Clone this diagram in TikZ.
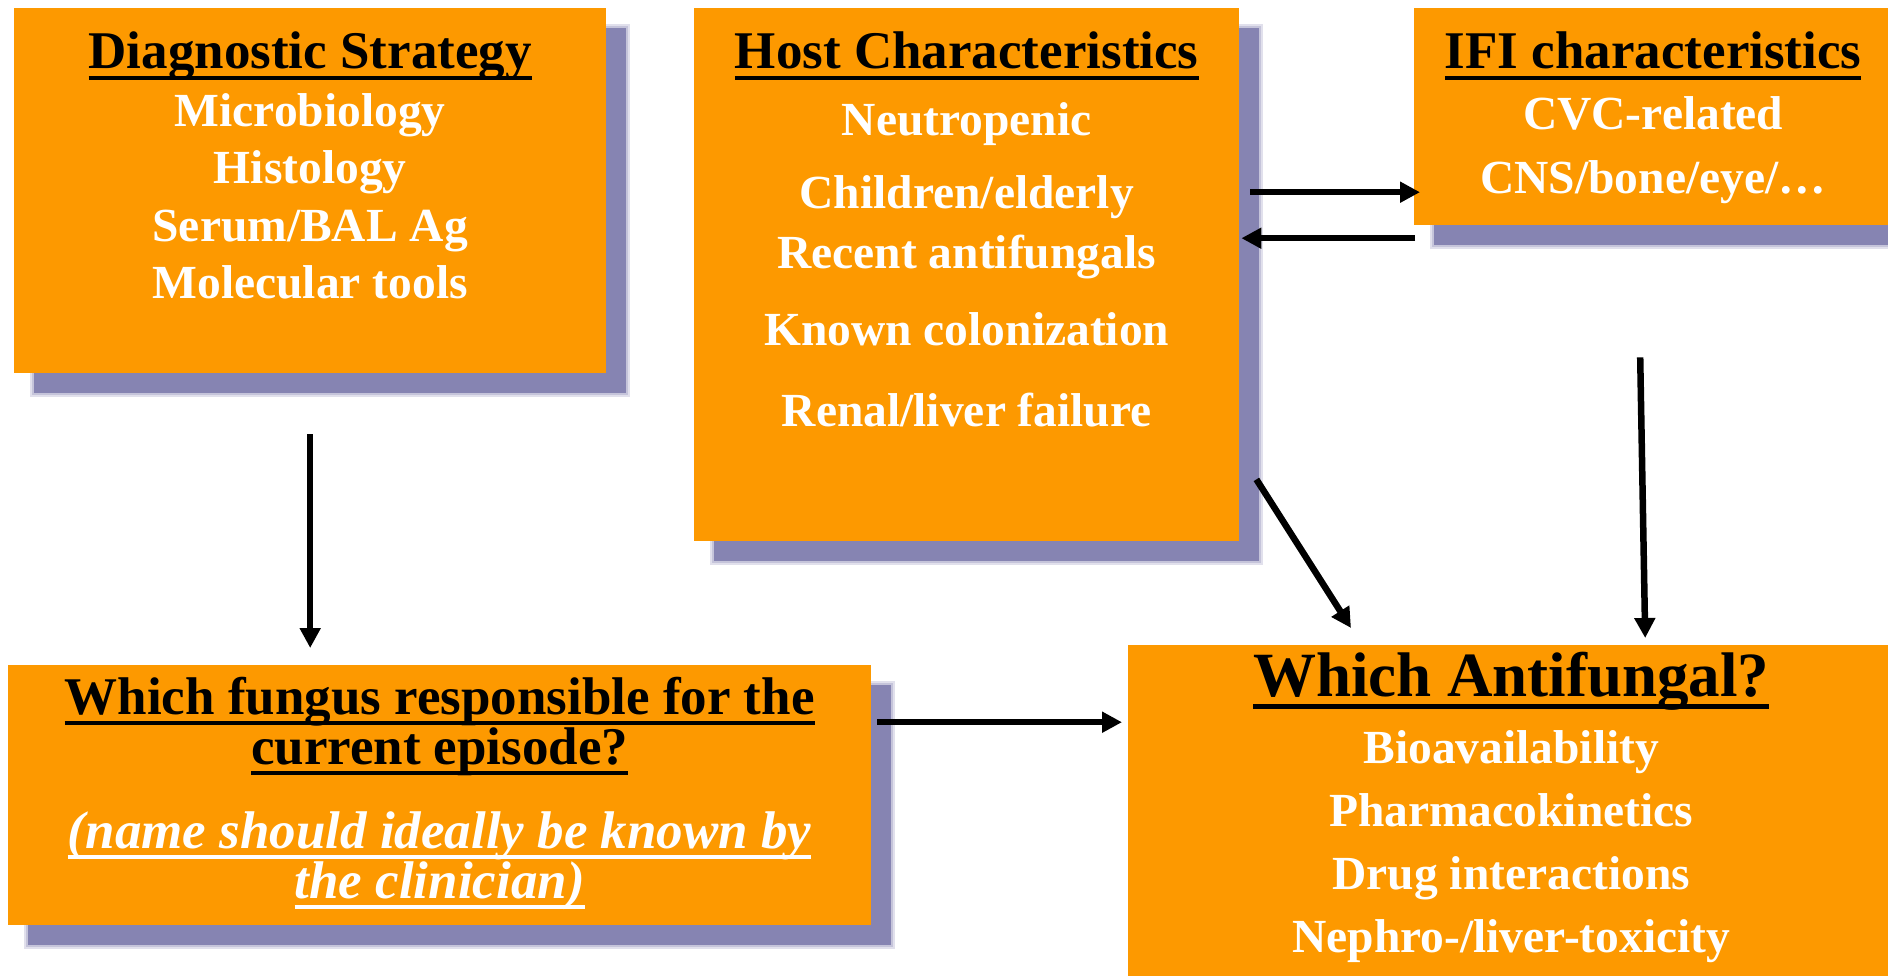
\documentclass[tikz,border=0pt]{standalone}
\usepackage{fontspec}
\setmainfont{Liberation Serif}
\usepackage{tikz}
\usetikzlibrary{positioning,shadows,arrows.meta,backgrounds}

\definecolor{boxorange}{RGB}{253,153,0}
\definecolor{shadowblue}{RGB}{134,132,178}
\setlength{\lineskiplimit}{-100pt}

% underline at a fixed depth, through the descenders
\newcommand{\uln}[1]{\setbox0\hbox{#1}\rlap{\rule[-0.21em]{\wd0}{0.08em}}\box0}
\newcommand{\headline}[2][53]{{\color{black}\fontsize{#1}{57}\selectfont\uln{#2}}}

\begin{document}
\begin{tikzpicture}[x=1pt, y=1pt,
    box/.style={rectangle, fill=boxorange, inner sep=0pt, anchor=north west,
      drop shadow={shadow xshift=20pt, shadow yshift=-20pt, fill=shadowblue, opacity=1}},
    items/.style={align=center, inner sep=0pt, text=white,
      font=\fontsize{47.5}{57.5}\selectfont\bfseries},
    arr/.style={line width=6.5pt, -{Triangle[length=20pt, width=20pt]}}]
  \useasboundingbox (0,0) rectangle (1888,-975);

  % boxes
  \node [box, minimum width=592pt, minimum height=365pt] (diag) at (14,-8) {};
  \node [box, minimum width=545pt, minimum height=533pt] (host) at (694,-8) {};
  \node [box, minimum width=478pt, minimum height=217pt] (ifi) at (1414,-8) {};
  \node [box, minimum width=863pt, minimum height=260pt] (fungus) at (8,-665) {};
  \node [box, minimum width=766pt, minimum height=335pt] (anti) at (1128,-645) {};

  % soft edge of the shadows
  \begin{scope}[on background layer]
    \foreach \b in {diag,host,ifi,fungus,anti}
      \foreach \d/\op in {4/0.25,2/0.3}
        \fill [shadowblue, opacity=\op] ([shift={(20-\d,-20+\d)}]\b.north west)
          rectangle ([shift={(20+\d,-20-\d)}]\b.south east);
  \end{scope}

  % texts
  \node [items, below=24pt of diag.north] (diagtext) {\headline{Diagnostic Strategy}\\
    Microbiology\\ Histology\\ Serum/BAL Ag\\ Molecular tools};
  \node [items, below=24pt of host.north] (hosttext) {\headline{Host Characteristics}\\[9pt]
    Neutropenic\\[16pt] Children/elderly\\[2pt] Recent antifungals\\[20pt]
    Known colonization\\[23pt] Renal/liver failure};
  \node [items, below=24pt of ifi.north] (ifitext) {\headline{IFI characteristics}\\[3pt]
    CVC-related\\[7pt] CNS/bone/eye/…};
  \node [items, text=black, font=\fontsize{53}{50}\selectfont\bfseries,
    below=11.5pt of fungus.north] (fungustext) {\uln{Which fungus responsible for the}\\
    \uln{current episode?}\\[34pt]
    {\color{white}\itshape\uln{(name should ideally be known by}}\\
    {\color{white}\itshape\uln{the clinician)}}};
  \node [items, font=\fontsize{47.5}{63}\selectfont\bfseries,
    below=6.5pt of anti.north] (antitext) {\headline[63]{Which Antifungal?}\\[4pt]
    Bioavailability\\ Pharmacokinetics\\ Drug interactions\\ Nephro-/liver-toxicity};

  % connectors
  \draw [arr, shorten <=61pt, shorten >=17pt] (diag.south) -- (diag.south |- fungus.north);
  \draw [arr] ([xshift=11pt, yshift=82.5pt]host.east) -- ([xshift=6pt, yshift=-75.5pt]ifi.west);
  \draw [arr] ([xshift=1pt, yshift=-121.5pt]ifi.west) -- ([xshift=2pt, yshift=36.5pt]host.east);
  \draw [arr] ([xshift=17pt, yshift=62pt]host.south east) -- ([xshift=223pt, yshift=17pt]anti.north west);
  \draw [arr] ([xshift=-13pt, yshift=-132pt]ifi.south) -- ([xshift=134pt, yshift=7pt]anti.north);
  \draw [arr] ([xshift=6pt, yshift=73pt]fungus.east) -- ([xshift=-6pt, yshift=90.5pt]anti.west);
\end{tikzpicture}
\end{document}
